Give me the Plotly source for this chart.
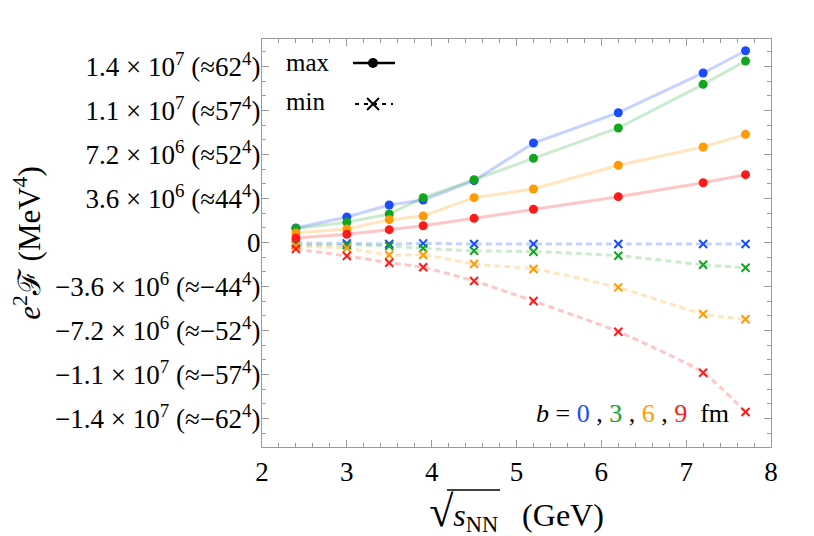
import plotly.graph_objects as go

# sqrt(s_NN) in GeV
energias = [2.4, 3.0, 3.5, 3.9, 4.5, 5.2, 6.2, 7.2, 7.7]

# e^2 F (MeV^4), max values for b = 0, 3, 6, 9 fm
max_b0 = [1.19e6, 2.09e6, 3.07e6, 3.48e6, 5.06e6, 8.14e6, 1.062e7, 1.387e7, 1.569e7]
max_b3 = [1.15e6, 1.65e6, 2.33e6, 3.67e6, 5.14e6, 6.89e6, 9.37e6, 1.294e7, 1.485e7]
max_b6 = [0.78e6, 1.10e6, 1.87e6, 2.17e6, 3.67e6, 4.38e6, 6.32e6, 7.81e6, 8.85e6]
max_b9 = [0.37e6, 0.67e6, 1.05e6, 1.37e6, 1.98e6, 2.72e6, 3.75e6, 4.89e6, 5.55e6]

# min values
min_b0 = [-0.07e6, -0.07e6, -0.12e6, -0.07e6, -0.12e6, -0.12e6, -0.12e6, -0.12e6, -0.12e6]
min_b3 = [-0.20e6, -0.20e6, -0.29e6, -0.47e6, -0.67e6, -0.75e6, -1.08e6, -1.82e6, -2.06e6]
min_b6 = [-0.29e6, -0.47e6, -1.02e6, -1.02e6, -1.76e6, -2.17e6, -3.67e6, -5.85e6, -6.28e6]
min_b9 = [-0.53e6, -1.10e6, -1.65e6, -2.03e6, -3.15e6, -4.79e6, -7.30e6, -1.065e7, -1.387e7]

y_tickvals = [-1.44e7, -1.08e7, -7.2e6, -3.6e6, 0, 3.6e6, 7.2e6, 1.08e7, 1.44e7]
y_ticktext = [
    "−1.4 × 10<sup>7</sup> (≈−62<sup>4</sup>)",
    "−1.1 × 10<sup>7</sup> (≈−57<sup>4</sup>)",
    "−7.2 × 10<sup>6</sup> (≈−52<sup>4</sup>)",
    "−3.6 × 10<sup>6</sup> (≈−44<sup>4</sup>)",
    "0",
    "3.6 × 10<sup>6</sup> (≈44<sup>4</sup>)",
    "7.2 × 10<sup>6</sup> (≈52<sup>4</sup>)",
    "1.1 × 10<sup>7</sup> (≈57<sup>4</sup>)",
    "1.4 × 10<sup>7</sup> (≈62<sup>4</sup>)",
]

cores = ["#1a4bff", "#12a51e", "#ff9a00", "#ff1a1a"]
cores_linha = ["rgba(26,75,255,0.25)", "rgba(18,165,30,0.22)",
               "rgba(255,154,0,0.25)", "rgba(255,26,26,0.25)"]
series_max = [max_b0, max_b3, max_b6, max_b9]
series_min = [min_b0, min_b3, min_b6, min_b9]

FONTE = "Liberation Serif"

fig = go.Figure()

# linhas primeiro, depois marcadores
for ys, cl in zip(series_min, cores_linha):
    fig.add_trace(go.Scatter(x=energias, y=ys, mode="lines",
                             line=dict(color=cl, width=3, dash="6px,4px", shape="spline", smoothing=0.6),
                             showlegend=False, hoverinfo="skip"))
for ys, cl in zip(series_max, cores_linha):
    fig.add_trace(go.Scatter(x=energias, y=ys, mode="lines",
                             line=dict(color=cl, width=3),
                             showlegend=False, hoverinfo="skip"))
for ys, c in zip(series_min, cores):
    fig.add_trace(go.Scatter(x=energias, y=ys, mode="markers",
                             marker=dict(symbol="x-thin", size=8, line=dict(color=c, width=2)),
                             showlegend=False))
for ys, c in zip(series_max, cores):
    fig.add_trace(go.Scatter(x=energias, y=ys, mode="markers",
                             marker=dict(symbol="circle", size=9, color=c),
                             showlegend=False))

# legenda desenhada a mao (texto a esquerda do simbolo)
def px(x):
    return (x - 262) / 509

def py(y):
    return (447 - y) / 408

fig.add_annotation(x=px(284), y=py(62), xref="paper", yref="paper", text="max",
                   showarrow=False, xanchor="left", yanchor="middle",
                   font=dict(family=FONTE, size=25, color="black"))
fig.add_annotation(x=px(284), y=py(101), xref="paper", yref="paper", text="min",
                   showarrow=False, xanchor="left", yanchor="middle",
                   font=dict(family=FONTE, size=25, color="black"))
fig.add_shape(type="line", xref="paper", yref="paper", x0=px(353), x1=px(395), y0=py(63), y1=py(63),
              line=dict(color="black", width=2.5))
fig.add_shape(type="circle", xref="paper", yref="paper", x0=px(368), x1=px(378), y0=py(58), y1=py(68),
              fillcolor="black", line=dict(color="black", width=0))
fig.add_shape(type="line", xref="paper", yref="paper", x0=px(355), x1=px(393), y0=py(104), y1=py(104),
              line=dict(color="black", width=2, dash="4px,5px"))
fig.add_shape(type="line", xref="paper", yref="paper", x0=px(367), x1=px(379), y0=py(98), y1=py(110),
              line=dict(color="black", width=2))
fig.add_shape(type="line", xref="paper", yref="paper", x0=px(367), x1=px(379), y0=py(110), y1=py(98),
              line=dict(color="black", width=2))

fig.add_annotation(x=px(731), y=py(413), xref="paper", yref="paper",
                   text=("<i>b</i> = <span style='color:#1a4bff'>0</span> , "
                         "<span style='color:#12a51e'>3</span> , "
                         "<span style='color:#ff9a00'>6</span> , "
                         "<span style='color:#ff1a1a'>9</span>  fm"),
                   showarrow=False, xanchor="right", yanchor="middle",
                   font=dict(family=FONTE, size=26, color="black"))

# barra da raiz quadrada sobre s_NN
fig.add_shape(type="line", xref="paper", yref="paper", x0=px(447), x1=px(500), y0=py(490), y1=py(490),
              line=dict(color="black", width=1.5))

eixo = dict(showline=True, linecolor="#9a9a9a", linewidth=1.3, mirror="allticks",
            ticks="inside", tickcolor="#9a9a9a", ticklen=7, tickwidth=1,
            showgrid=False, zeroline=False,
            tickfont=dict(family=FONTE, size=27, color="black"))

fig.update_xaxes(range=[2, 8], dtick=1, tick0=2,
                 minor=dict(dtick=0.2, ticks="inside", ticklen=4, tickcolor="#9a9a9a", showgrid=False),
                 title=dict(text="<span style='font-size:44px'>√</span><i>s</i><sub>NN</sub>   (GeV)",
                            font=dict(family=FONTE, size=32, color="black"), standoff=6),
                 **eixo)
fig.update_yaxes(range=[-1.673e7, 1.665e7], tickmode="array", tickvals=y_tickvals, ticktext=y_ticktext,
                 ticklabelstandoff=-5,
                 minor=dict(tickmode="linear", tick0=0, dtick=1.2e6, ticks="inside", ticklen=4,
                            tickcolor="#9a9a9a", showgrid=False),
                 title=dict(text="<i>e</i><sup>2</sup>ℱ (MeV<sup>4</sup>)",
                            font=dict(family=FONTE, size=31, color="black"), standoff=6),
                 **eixo)

# a pagina tem 8px de margem no body
fig.update_layout(width=814, height=536, plot_bgcolor="white", paper_bgcolor="white",
                  margin=dict(l=254, r=51, t=31, b=97, autoexpand=False), showlegend=False)

fig.write_html("out.html")
